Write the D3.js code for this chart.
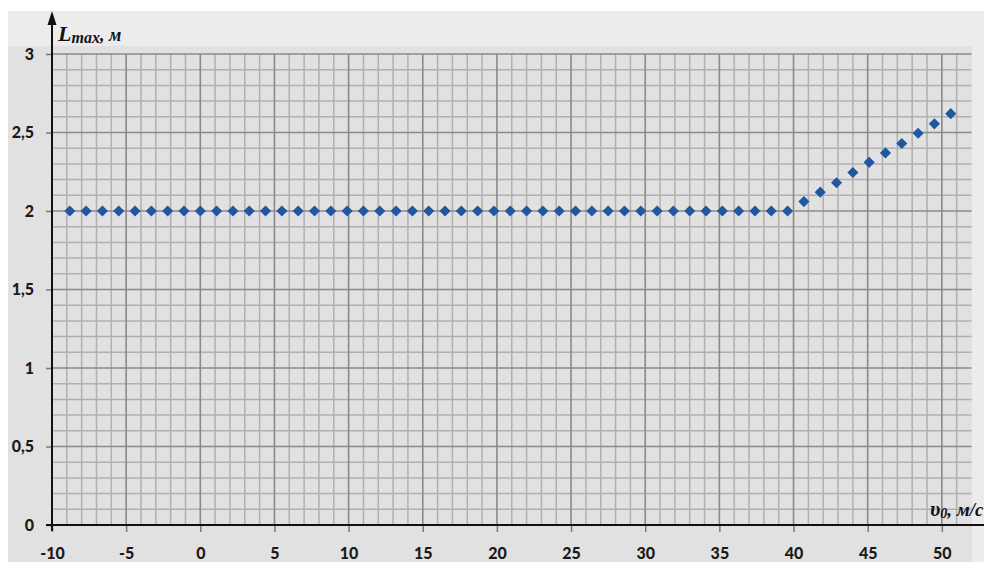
<!DOCTYPE html>
<html>
<head>
<meta charset="utf-8">
<script src="https://cdn.jsdelivr.net/npm/d3@7/dist/d3.min.js"></script>
<style>
  html, body { margin: 0; padding: 0; background: #ffffff; }
  svg { display: block; }
</style>
</head>
<body>
<svg id="chart" width="984" height="562"></svg>
<script>
// ---- data ----
const speeds = [-8.8, -7.7, -6.6, -5.5, -4.4, -3.3, -2.2, -1.1, 0, 1.1, 2.2, 3.3, 4.4, 5.5, 6.6, 7.7, 8.8, 9.9,
  11, 12.1, 13.2, 14.3, 15.4, 16.5, 17.6, 18.7, 19.8, 20.9, 22, 23.1, 24.2, 25.3, 26.4, 27.5, 28.6, 29.7,
  30.8, 31.9, 33, 34.1, 35.2, 36.3, 37.4, 38.5, 39.6, 40.7, 41.8, 42.9, 44, 45.1, 46.2, 47.3, 48.4, 49.5, 50.6];
const lengths = [2, 2, 2, 2, 2, 2, 2, 2, 2, 2, 2, 2, 2, 2, 2, 2, 2, 2,
  2, 2, 2, 2, 2, 2, 2, 2, 2, 2, 2, 2, 2, 2, 2, 2, 2, 2,
  2, 2, 2, 2, 2, 2, 2, 2, 2, 2.06, 2.12, 2.18, 2.245, 2.31, 2.37, 2.43, 2.495, 2.555, 2.62];
const xTicks = [-10, -5, 0, 5, 10, 15, 20, 25, 30, 35, 40, 45, 50];
const yTicks = [0, 0.5, 1, 1.5, 2, 2.5, 3];
const yLabel = { main: "L", sub: "max", rest: ", м" };
const xLabel = { main: "υ", sub: "0", rest: ", м/с" };

// ---- layout ----
const svg = d3.select("#chart");
const W = 984, H = 562;
const x = d3.scaleLinear().domain([-10, 52]).range([52, 971.5]);
const y = d3.scaleLinear().domain([0, 3]).range([525, 54]);

// backgrounds
svg.append("rect").attr("x", 8).attr("y", 11).attr("width", W - 8).attr("height", H - 11).attr("fill", "#ececec");
svg.append("rect").attr("x", 8).attr("y", 46).attr("width", 964).attr("height", H - 46).attr("fill", "#e1e1e1");

// grid
const grid = svg.append("g");
const xMinor = d3.range(-9, 52).filter(v => v % 5 !== 0);
const xMajor = d3.range(-5, 52, 5);
const yMinor = d3.range(1, 30).filter(v => v % 5 !== 0).map(v => v / 10);
const yMajor = [0.5, 1, 1.5, 2, 2.5, 3];
grid.selectAll(".vmin").data(xMinor).join("line")
  .attr("x1", d => x(d)).attr("x2", d => x(d)).attr("y1", y(3)).attr("y2", y(0))
  .attr("stroke", "#b0b0b0").attr("stroke-width", 1.5);
grid.selectAll(".hmin").data(yMinor).join("line")
  .attr("x1", x(-10)).attr("x2", x(52)).attr("y1", d => y(d)).attr("y2", d => y(d))
  .attr("stroke", "#b0b0b0").attr("stroke-width", 1.5);
grid.selectAll(".vmaj").data(xMajor).join("line")
  .attr("x1", d => x(d)).attr("x2", d => x(d)).attr("y1", y(3)).attr("y2", y(0))
  .attr("stroke", "#8a8a8a").attr("stroke-width", 1.6);
grid.selectAll(".hmaj").data(yMajor).join("line")
  .attr("x1", x(-10)).attr("x2", x(52)).attr("y1", d => y(d)).attr("y2", d => y(d))
  .attr("stroke", "#8a8a8a").attr("stroke-width", 1.6);

// axes ticks + labels
const fmt = d => String(d).replace(".", ",");
const xAxis = svg.append("g").attr("transform", `translate(0,${y(0)})`)
  .call(d3.axisBottom(x).tickValues(xTicks).tickSize(7).tickPadding(16).tickFormat(d => String(d)));
const yAxis = svg.append("g").attr("transform", `translate(${x(-10)},0)`)
  .call(d3.axisLeft(y).tickValues(yTicks).tickSize(6).tickPadding(12).tickFormat(fmt));
[xAxis, yAxis].forEach(a => {
  a.select(".domain").remove();
  a.selectAll(".tick line").attr("stroke", "#7a7a7a").attr("stroke-width", 1.5);
  a.selectAll(".tick text").attr("fill", "#1c1a18")
    .style("font-family", "Lato, 'Liberation Sans', sans-serif")
    .style("font-weight", "900").style("font-size", "16px");
});
xAxis.selectAll(".tick text").attr("dy", "0.71em");

// axis lines with arrow
svg.append("line").attr("x1", 46).attr("x2", W).attr("y1", y(0)).attr("y2", y(0))
  .attr("stroke", "#111").attr("stroke-width", 2);
svg.append("line").attr("x1", x(-10)).attr("x2", x(-10)).attr("y1", 531).attr("y2", 22)
  .attr("stroke", "#111").attr("stroke-width", 2);
svg.append("path")
  .attr("d", `M${x(-10)},11 L${x(-10) - 4.5},25 L${x(-10) + 4.5},25 Z`)
  .attr("fill", "#111");

// points
const sym = d3.symbol().type(d3.symbolSquare).size(62);
svg.append("g").selectAll("path").data(speeds.map((s, i) => [s, lengths[i]])).join("path")
  .attr("d", sym)
  .attr("transform", d => `translate(${x(d[0])},${y(d[1])}) rotate(45)`)
  .attr("fill", "#1f58a0");

// axis titles
const yt = svg.append("text").attr("x", 58).attr("y", 41)
  .style("font-family", "'Liberation Serif', 'DejaVu Serif', serif")
  .style("font-weight", "700").style("font-style", "italic").attr("fill", "#121218");
yt.append("tspan").text(yLabel.main).style("font-size", "22px");
yt.append("tspan").text(yLabel.sub).style("font-size", "16px").attr("dy", 2);
yt.append("tspan").text(yLabel.rest).style("font-size", "18px").attr("dy", -2);

const xt = svg.append("text").attr("x", 930).attr("y", 516)
  .style("font-family", "'Liberation Serif', 'DejaVu Serif', serif")
  .style("font-weight", "700").style("font-style", "italic").attr("fill", "#121218");
xt.append("tspan").text(xLabel.main).style("font-size", "21px");
xt.append("tspan").text(xLabel.sub).style("font-size", "14px").attr("dy", 2);
xt.append("tspan").text(xLabel.rest).style("font-size", "19px").attr("dy", -2);
</script>
</body>
</html>
